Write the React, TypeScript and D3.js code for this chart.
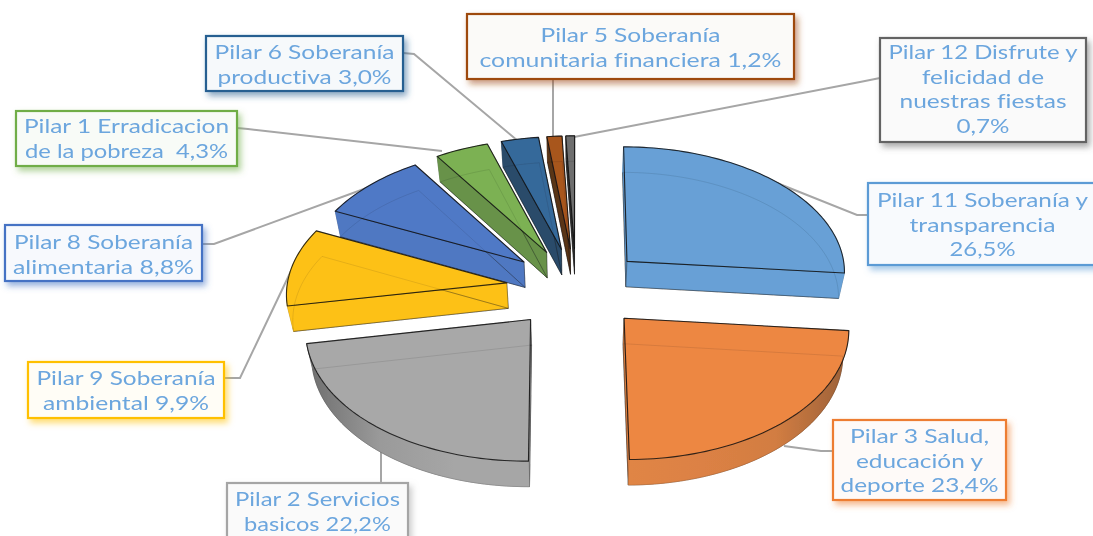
import React from "react";
import * as d3 from "d3";

const WIDTH = 1093;
const HEIGHT = 536;

// ---- data, clockwise from 12 o'clock ----
const pillars = ["Pilar 11", "Pilar 3", "Pilar 2", "Pilar 9", "Pilar 8", "Pilar 1", "Pilar 6", "Pilar 5", "Pilar 12"];
const shares = [26.5, 23.4, 22.2, 9.9, 8.8, 4.3, 3.0, 1.2, 0.7];
const labelLines = [
  ["Pilar 11 Soberanía y", "transparencia", "26,5%"],
  ["Pilar 3 Salud,", "educación y", "deporte 23,4%"],
  ["Pilar 2 Servicios", "basicos 22,2%"],
  ["Pilar 9 Soberanía", "ambiental 9,9%"],
  ["Pilar 8 Soberanía", "alimentaria 8,8%"],
  ["Pilar 1 Erradicacion", "de la pobreza  4,3%"],
  ["Pilar 6 Soberanía", "productiva 3,0%"],
  ["Pilar 5 Soberanía", "comunitaria financiera 1,2%"],
  ["Pilar 12 Disfrute y", "felicidad de", "nuestras fiestas", "0,7%"],
];

// ---- styles ----
const topColors = ["#67A0D6", "#ED8743", "#A8A8A8", "#FDC115", "#5079C6", "#7BB153", "#36699A", "#A8561E", "#6E6E6E"];
const sideColors = ["#67A0D6", "#DC8144", "#A0A0A0", "#FDC115", "#4F78C2", "#67924A", "#2A4B6A", "#5A3417", "#2E2E2E"];
const borderColors = ["#5B9BD5", "#ED7D31", "#A5A5A5", "#FFC000", "#4472C4", "#70AD47", "#255E91", "#9E480E", "#636363"];
const boxFills = ["#F8FAFD", "#FEFAF8", "#FAFAFA", "#FFFDF6", "#F7F9FD", "#F8FBF7", "#F6F9FB", "#FBFAF8", "#FAFAFA"];
const rimStops: (string[] | null)[] = [
  null,
  ["#E08544", "#DC8144", "#D27D42", "#9A6038"],
  ["#6E6E6E", "#9A9A9A", "#A6A6A6", "#A6A6A6"],
  null, null, null, null, null, null,
];
const TEXT_COLOR = "#6CA6DE";
const LEADER = "#A6A6A6";

// ---- label layout: box [x0, y0, x1, y1], first line centre, widths of the lines, leader ----
const boxes = [
  [868, 183, 1098, 265], [833, 420, 1006, 500], [227, 483, 408, 545], [28, 362, 224, 418], [5, 225, 202, 281],
  [16, 111, 237, 166], [206, 36, 403, 91], [467, 14, 794, 79], [880, 38, 1086, 142],
];
const lineWidths = [
  [211, 146, 66], [139, 127, 158], [165, 147], [179, 166], [179, 181],
  [205, 203], [180, 174], [180, 302], [189, 122, 167, 53],
];
const firstLine = [200, 436, 499, 378, 242, 126, 52, 35, 52];
const leaders: [number, number][][] = [
  [[868, 215], [857, 215], [777, 183]],
  [[833, 451], [821, 451], [784, 446]],
  [[381, 483], [381, 452]],
  [[224, 378], [240, 378], [291, 271]],
  [[202, 244], [214, 244], [372, 186]],
  [[237, 128], [248, 129], [442, 151]],
  [[403, 53], [414, 54], [518, 141]],
  [[553, 79], [553, 138]],
  [[880, 78], [860, 82], [574, 137]],
];
const LINE_STEP = 24.6;

// ---- projection of the exploded pie ----
const CX = 576;
const CY = 288;
const RADIUS = 220;
const EXPLODE = 70;
const TILT = 0.575;
const PERSPECTIVE = 0.00033;
const THICKNESS = 25.5;
const BASE_SHRINK = 0.978;

type Pt = [number, number];

function topPoint(X: number, Y: number): Pt {
  const s = 1 / (1 + PERSPECTIVE * Y);
  return [CX + X * s, CY - TILT * Y * s];
}
function basePoint(X: number, Y: number): Pt {
  const s = 1 / (1 + PERSPECTIVE * Y);
  return [CX + X * s * BASE_SHRINK, CY - TILT * Y * s + THICKNESS];
}

const pieLayout = d3.pie<number>().sort(null).value((d) => d)(shares);
const linePath = d3.line<Pt>();

function buildSlice(i: number) {
  const { startAngle, endAngle } = pieLayout[i];
  const mid = (startAngle + endAngle) / 2;
  const ox = EXPLODE * Math.sin(mid);
  const oy = EXPLODE * Math.cos(mid);
  const steps = Math.max(4, Math.ceil((endAngle - startAngle) * 40));
  const angle = d3.scaleLinear().domain([0, steps]).range([startAngle, endAngle]);
  const arc = d3.range(steps + 1).map((k): Pt => {
    const a = angle(k);
    return [ox + RADIUS * Math.sin(a), oy + RADIUS * Math.cos(a)];
  });
  const apexTop = topPoint(ox, oy);
  const apexBase = basePoint(ox, oy);
  const arcTop = arc.map(([x, y]) => topPoint(x, y));
  const arcBase = arc.map(([x, y]) => basePoint(x, y));
  const closed = (pts: Pt[]) => linePath(pts) + "Z";
  return {
    mid,
    top: closed([apexTop, ...arcTop]),
    base: closed([apexBase, ...arcBase]),
    rim: closed([...arcTop, ...[...arcBase].reverse()]),
    wallStart: closed([apexTop, arcTop[0], arcBase[0], apexBase]),
    wallEnd: closed([apexTop, arcTop[steps], arcBase[steps], apexBase]),
    xMin: d3.min(arcTop, (p) => p[0]) as number,
    xMax: d3.max(arcTop, (p) => p[0]) as number,
  };
}

const slices = shares.map((_, i) => ({ i, ...buildSlice(i) }));
const drawOrder = [...slices].sort((a, b) => Math.cos(b.mid) - Math.cos(a.mid));

export default function App() {
  return (
    <svg
      width={WIDTH}
      height={HEIGHT}
      viewBox={`0 0 ${WIDTH} ${HEIGHT}`}
      style={{ position: "absolute", left: 0, top: 0, background: "#fff" }}
      fontFamily="Lato, 'Open Sans', sans-serif"
    >
      <defs>
        <filter id="soft" x="-5%" y="-5%" width="110%" height="110%">
          <feGaussianBlur stdDeviation="0.45" />
        </filter>
        <filter id="softText" x="-5%" y="-20%" width="110%" height="140%">
          <feGaussianBlur stdDeviation="0.3" />
        </filter>
        {borderColors.map((c, i) => (
          <filter key={i} id={`shadow${i}`} x="-10%" y="-20%" width="125%" height="150%">
            <feDropShadow dx="3" dy="4" stdDeviation="3" floodColor={c} floodOpacity="0.55" />
          </filter>
        ))}
        {slices.map((s) =>
          rimStops[s.i] ? (
            <linearGradient
              key={s.i}
              id={`rim${s.i}`}
              gradientUnits="userSpaceOnUse"
              x1={s.xMin}
              x2={s.xMax}
              y1={0}
              y2={0}
            >
              {(rimStops[s.i] as string[]).map((c, k, arr) => (
                <stop key={k} offset={d3.scaleLinear().domain([0, arr.length - 1]).range([0, 1])(k)} stopColor={c} />
              ))}
            </linearGradient>
          ) : null
        )}
      </defs>

      <g fill="none" stroke={LEADER} strokeWidth={2} filter="url(#soft)">
        {leaders.map((pts, i) => (
          <path key={pillars[i]} d={linePath(pts) as string} />
        ))}
      </g>

      <g filter="url(#soft)">
        {drawOrder.map((s) => {
          const wall = sideColors[s.i];
          const rimFill = rimStops[s.i] ? `url(#rim${s.i})` : wall;
          return (
            <g key={pillars[s.i]}>
              <path d={s.base} fill={wall} stroke="#222" strokeWidth={0.6} strokeOpacity={0.6} />
              <path d={s.wallStart} fill={wall} stroke="#222" strokeWidth={0.6} strokeOpacity={0.6} />
              <path d={s.wallEnd} fill={wall} stroke="#222" strokeWidth={0.6} strokeOpacity={0.6} />
              <path d={s.rim} fill={rimFill} stroke={rimFill} strokeWidth={0.5} />
              <path d={s.top} fill={topColors[s.i]} stroke="#111" strokeWidth={1.1} strokeOpacity={0.85} strokeLinejoin="round" />
              <path d={s.base} fill="none" stroke="#000" strokeWidth={0.8} strokeOpacity={0.12} />
            </g>
          );
        })}
      </g>

      {labelLines.map((lines, i) => {
        const [x0, y0, x1, y1] = boxes[i];
        const cx = i === 0 ? 982.5 : (x0 + x1) / 2;
        return (
          <g key={pillars[i]}>
            <rect
              x={x0}
              y={y0}
              width={x1 - x0}
              height={y1 - y0}
              fill={boxFills[i]}
              stroke={borderColors[i]}
              strokeWidth={2.2}
              filter={`url(#shadow${i})`}
            />
            <g filter="url(#softText)">
              {lines.map((t, k) => (
                <text
                  key={k}
                  x={cx}
                  y={firstLine[i] + k * LINE_STEP}
                  dy="0.36em"
                  textAnchor="middle"
                  fontSize={20}
                  fill={TEXT_COLOR}
                  textLength={lineWidths[i][k]}
                  lengthAdjust="spacingAndGlyphs"
                  style={{ fontVariantLigatures: "none", whiteSpace: "pre" }}
                >
                  {t}
                </text>
              ))}
            </g>
          </g>
        );
      })}
    </svg>
  );
}
